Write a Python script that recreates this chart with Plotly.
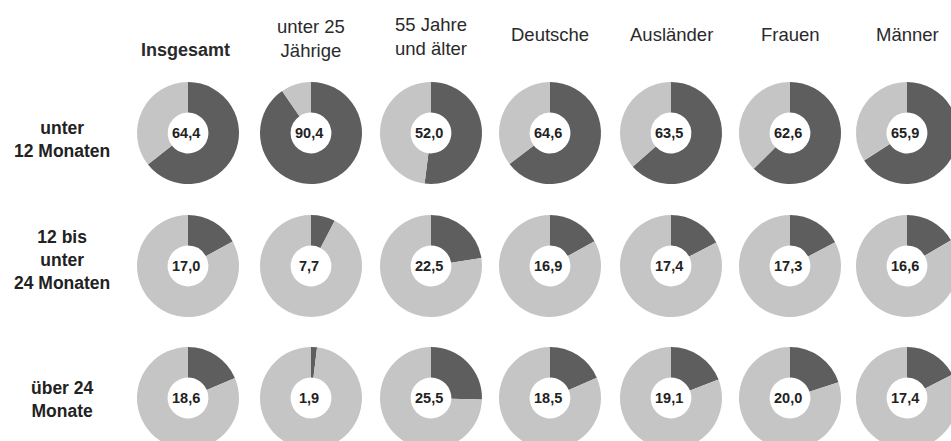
import plotly.graph_objects as go

# ---- data ----
columns = ["Insgesamt", "unter 25<br>Jährige", "55 Jahre<br>und älter", "Deutsche",
           "Ausländer", "Frauen", "Männer"]
row_labels = ["unter<br>12 Monaten", "12 bis<br>unter<br>24 Monaten", "über 24<br>Monate"]
under_12 = [64.4, 90.4, 52.0, 64.6, 63.5, 62.6, 65.9]
from_12_to_24 = [17.0, 7.7, 22.5, 16.9, 17.4, 17.3, 16.6]
over_24 = [18.6, 1.9, 25.5, 18.5, 19.1, 20.0, 17.4]
series = [under_12, from_12_to_24, over_24]

# ---- layout (pixels) ----
W, H = 960, 452
col_x = [188, 311, 431, 550, 671, 790, 907]
row_y = [133, 266, 398]
row_label_y = [139, 260, 399]
header_y = [50, 39, 37, 34, 34, 34, 34]
header_bold = [True, False, False, False, False, False, False]
R = 51
DARK = "#5e5e5e"
LIGHT = "#c5c5c5"
FONT = "Liberation Sans, Arial, sans-serif"

def px(x):
    return x / W

def py(y):
    return 1 - y / H

fig = go.Figure()
annotations = []

for r, vals in enumerate(series):
    for c, v in enumerate(vals):
        cx, cy = col_x[c], row_y[r]
        fig.add_trace(go.Pie(
            values=[v, 100 - v],
            labels=["Anteil", "Rest"],
            sort=False,
            direction="clockwise",
            rotation=0,
            hole=0.4,
            textinfo="none",
            hoverinfo="skip",
            showlegend=False,
            marker=dict(colors=[DARK, LIGHT], line=dict(width=0)),
            domain=dict(x=[px(cx - R), px(cx + R)], y=[py(cy + R), py(cy - R)]),
        ))
        annotations.append(dict(
            x=px(cx - 2), y=py(cy), xref="paper", yref="paper",
            text="<b>" + f"{v:.1f}".replace(".", ",") + "</b>",
            showarrow=False, xanchor="center", yanchor="middle",
            font=dict(family=FONT, size=14.5, color="#222222"),
        ))

for c, name in enumerate(columns):
    bold = header_bold[c]
    txt = f"<b>{name}</b>" if bold else name
    annotations.append(dict(
        x=px(col_x[c] - (3 if bold else 0)), y=py(header_y[c]), xref="paper", yref="paper",
        text=txt, showarrow=False, xanchor="center", yanchor="middle",
        align="center",
        font=dict(family=FONT, size=18 if bold else 18.5, color="#2a2a2a"),
    ))

for r, name in enumerate(row_labels):
    annotations.append(dict(
        x=px(62), y=py(row_label_y[r]), xref="paper", yref="paper",
        text=f"<b>{name}</b>", showarrow=False, xanchor="center", yanchor="middle",
        align="center",
        font=dict(family=FONT, size=17.5, color="#222222"),
    ))

fig.update_layout(
    width=W, height=H,
    margin=dict(l=0, r=0, t=0, b=0),
    paper_bgcolor="white", plot_bgcolor="white",
    annotations=annotations,
)

fig.write_html(
    "out.html",
    post_script="document.body.style.overflow='hidden';document.documentElement.style.overflow='hidden';document.body.style.margin='0';",
)
